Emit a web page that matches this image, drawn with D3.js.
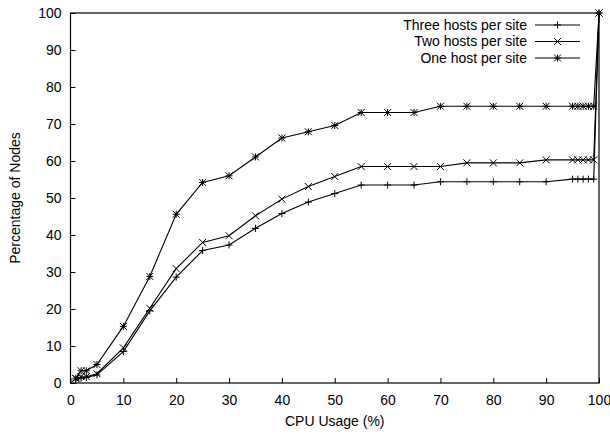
<!DOCTYPE html>
<html>
<head>
<meta charset="utf-8">
<script src="https://cdn.jsdelivr.net/npm/d3@7"></script>
<style>
    body { margin: 0; background: #fff; }
    svg text { font-family: "Liberation Sans", Arial, sans-serif; font-size: 14px; fill: #000; }
    .line { fill: none; stroke: #000; stroke-width: 1.1; }
    .mark { stroke: #000; stroke-width: 1; fill: none; }
</style>
</head>
<body>
<div id="chart"></div>
<script>
// CPU usage sample points (%)
const cpuUsage = [1, 2, 3, 5, 10, 15, 20, 25, 30, 35, 40, 45, 50, 55, 60, 65, 70, 75, 80, 85, 90, 95, 96, 97, 98, 99, 100];

const threeHosts = [0.8, 1.3, 1.5, 2.2, 8.5, 19.5, 28.6, 35.8, 37.3, 41.8, 45.8, 48.9, 51.2, 53.5, 53.5, 53.5, 54.4, 54.4, 54.4, 54.4, 54.4, 55.1, 55.1, 55.1, 55.1, 55.1, 100];
const twoHosts = [1.2, 1.7, 1.7, 2.5, 9.5, 20.2, 30.9, 38.0, 39.8, 45.2, 49.7, 53.1, 55.8, 58.5, 58.5, 58.5, 58.5, 59.5, 59.5, 59.5, 60.3, 60.3, 60.3, 60.3, 60.3, 60.3, 100];
const oneHost = [1.3, 3.3, 3.3, 5.0, 15.3, 28.8, 45.6, 54.2, 56.0, 61.1, 66.2, 67.9, 69.6, 73.1, 73.1, 73.1, 74.8, 74.8, 74.8, 74.8, 74.8, 74.8, 74.8, 74.8, 74.8, 74.8, 100];

const seriesNames = ["Three hosts per site", "Two hosts per site", "One host per site"];
const seriesMarks = ["plus", "cross", "star"];
const xTicks = [0, 10, 20, 30, 40, 50, 60, 70, 80, 90, 100];
const yTicks = [0, 10, 20, 30, 40, 50, 60, 70, 80, 90, 100];

const W = 610, H = 436;
const margin = { top: 13, right: 11, bottom: 53, left: 70.5 };

const svg = d3.select("#chart").append("svg")
    .attr("width", W)
    .attr("height", H);

const x = d3.scaleLinear().domain([0, 100]).range([margin.left, W - margin.right]);
const y = d3.scaleLinear().domain([0, 100]).range([H - margin.bottom, margin.top]);

// ticks drawn inward
const xAxis = svg.append("g")
    .attr("transform", `translate(0,${y(0)})`)
    .call(d3.axisBottom(x).tickValues(xTicks).tickSizeInner(-5).tickSizeOuter(0).tickPadding(12));
const yAxis = svg.append("g")
    .attr("transform", `translate(${x(0)},0)`)
    .call(d3.axisLeft(y).tickValues(yTicks).tickSizeInner(-5).tickSizeOuter(0).tickPadding(9));

[xAxis, yAxis].forEach(a => {
    a.select(".domain").remove();
    a.selectAll("line").attr("stroke", "#000");
    a.selectAll("text").style("font-size", "14px");
});

// frame
svg.append("rect")
    .attr("x", x(0)).attr("y", y(100))
    .attr("width", x(100) - x(0)).attr("height", y(0) - y(100))
    .attr("fill", "none").attr("stroke", "#000").attr("stroke-width", 1.2);

function drawMark(g, type, cx, cy) {
    const s = 3.5;
    if (type === "plus" || type === "star") {
        g.append("path").attr("class", "mark")
            .attr("d", `M${cx - s},${cy}H${cx + s}M${cx},${cy - s}V${cy + s}`);
    }
    if (type === "cross" || type === "star") {
        g.append("path").attr("class", "mark")
            .attr("d", `M${cx - s},${cy - s}L${cx + s},${cy + s}M${cx - s},${cy + s}L${cx + s},${cy - s}`);
    }
}

const allSeries = [threeHosts, twoHosts, oneHost];
const line = d3.line().x((d, i) => x(cpuUsage[i])).y(d => y(d));

allSeries.forEach((vals, k) => {
    const g = svg.append("g");
    g.append("path").datum(vals).attr("class", "line").attr("d", line);
    vals.forEach((v, i) => drawMark(g, seriesMarks[k], x(cpuUsage[i]), y(v)));
});

// legend
const legend = svg.append("g");
seriesNames.forEach((name, k) => {
    const ly = 25 + k * 16.5;
    legend.append("text")
        .attr("x", 527).attr("y", ly)
        .attr("dy", "0.35em")
        .attr("text-anchor", "end")
        .text(name);
    legend.append("line")
        .attr("x1", 535).attr("x2", 580)
        .attr("y1", ly).attr("y2", ly)
        .attr("stroke", "#000");
    drawMark(legend, seriesMarks[k], 557.5, ly);
});

// axis titles
svg.append("text")
    .attr("x", (x(0) + x(100)) / 2).attr("y", 426)
    .attr("text-anchor", "middle")
    .text("CPU Usage (%)");
svg.append("text")
    .attr("transform", `translate(20,${(y(0) + y(100)) / 2}) rotate(-90)`)
    .attr("text-anchor", "middle")
    .text("Percentage of Nodes");
</script>
</body>
</html>
